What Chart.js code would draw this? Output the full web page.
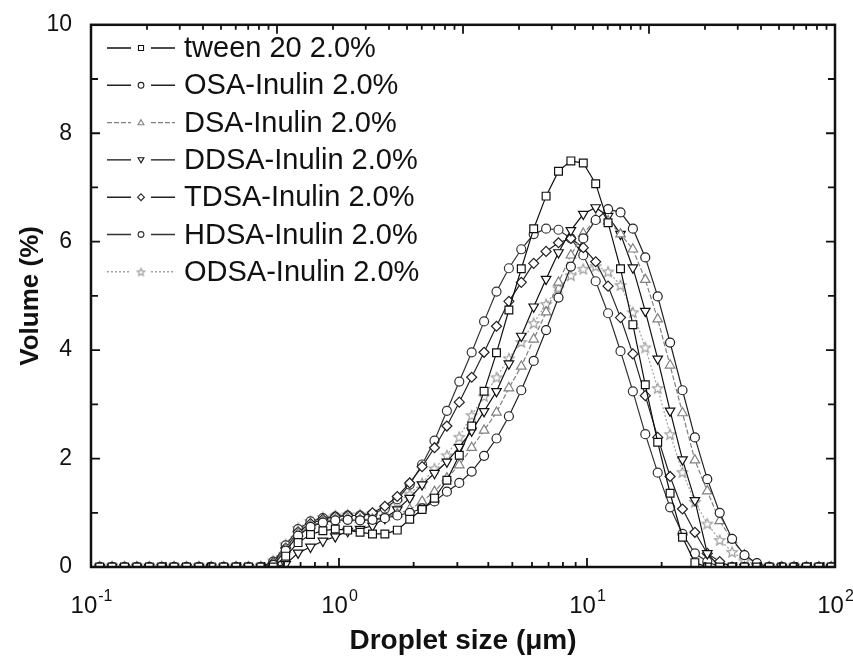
<!DOCTYPE html>
<html lang="en">
<head>
<meta charset="UTF-8">
<title>Droplet size distribution</title>
<script src="https://cdn.jsdelivr.net/npm/chart.js"></script>
<style>
    body { margin: 0; background: #fff; }
    #wrap { width: 853px; height: 660px; }
</style>
</head>
<body>
<div id="wrap"><canvas id="sizeChart" width="853" height="660"></canvas></div>
<script>
// droplet size classes (um)
const sizes = [
    0.1084, 0.1216, 0.1365, 0.1531, 0.1718, 0.1928, 0.2163, 0.2427, 0.2723, 0.3055,
    0.3428, 0.3846, 0.4316, 0.4842, 0.5433, 0.6096, 0.6840, 0.7674, 0.8610, 0.9661,
    1.084, 1.216, 1.365, 1.531, 1.718, 1.928, 2.163, 2.427, 2.723, 3.055,
    3.428, 3.846, 4.316, 4.842, 5.433, 6.096, 6.840, 7.674, 8.610, 9.661,
    10.84, 12.16, 13.65, 15.31, 17.18, 19.28, 21.63, 24.27, 27.23, 30.55,
    34.28, 38.46, 43.15, 48.42, 54.33, 60.95, 68.39, 76.74, 86.10, 96.61
];

// volume (%)
const tween20 = [
    0, 0, 0, 0, 0, 0, 0, 0, 0, 0,
    0, 0, 0, 0, 0, 0.20, 0.45, 0.60, 0.67, 0.70,
    0.68, 0.64, 0.61, 0.61, 0.68, 0.88, 1.06, 1.27, 1.60, 2.06,
    2.60, 3.24, 3.95, 4.74, 5.50, 6.24, 6.84, 7.30, 7.49, 7.45,
    7.07, 6.35, 5.50, 4.47, 3.36, 2.30, 1.36, 0.55, 0.08, 0,
    0, 0, 0, 0, 0, 0, 0, 0, 0, 0
];
const osaInulin = [
    0, 0, 0, 0, 0, 0, 0, 0, 0, 0,
    0, 0, 0, 0, 0.04, 0.30, 0.58, 0.74, 0.82, 0.86,
    0.87, 0.86, 0.87, 0.90, 0.95, 1.00, 1.08, 1.21, 1.39, 1.55,
    1.76, 2.05, 2.37, 2.78, 3.26, 3.80, 4.37, 4.97, 5.54, 6.06,
    6.40, 6.60, 6.54, 6.24, 5.71, 4.99, 4.14, 3.26, 2.39, 1.62,
    1.00, 0.52, 0.22, 0.07, 0, 0, 0, 0, 0, 0
];
const dsaInulin = [
    0, 0, 0, 0, 0, 0, 0, 0, 0, 0,
    0, 0, 0, 0, 0.06, 0.33, 0.62, 0.76, 0.84, 0.88,
    0.90, 0.88, 0.88, 0.92, 0.98, 1.06, 1.21, 1.39, 1.64, 1.88,
    2.20, 2.52, 2.85, 3.30, 3.70, 4.20, 4.70, 5.25, 5.75, 6.15,
    6.41, 6.38, 6.14, 5.86, 5.30, 4.57, 3.72, 2.84, 1.97, 1.40,
    0.85, 0.50, 0.22, 0.05, 0, 0, 0, 0, 0, 0
];
const ddsaInulin = [
    0, 0, 0, 0, 0, 0, 0, 0, 0, 0,
    0, 0, 0, 0, 0, 0.05, 0.26, 0.37, 0.48, 0.56,
    0.66, 0.70, 0.76, 0.90, 1.06, 1.27, 1.52, 1.73, 1.94, 2.21,
    2.51, 2.87, 3.24, 3.75, 4.26, 4.80, 5.31, 5.80, 6.21, 6.51,
    6.63, 6.47, 6.14, 5.52, 4.72, 3.84, 2.88, 1.98, 1.23, 0.25,
    0, 0, 0, 0, 0, 0, 0, 0, 0, 0
];
const tdsaInulin = [
    0, 0, 0, 0, 0, 0, 0, 0, 0, 0,
    0, 0, 0, 0, 0.08, 0.35, 0.65, 0.80, 0.88, 0.93,
    0.95, 0.95, 1.00, 1.12, 1.30, 1.55, 1.85, 2.20, 2.60, 3.04,
    3.50, 3.96, 4.44, 4.90, 5.25, 5.60, 5.82, 5.98, 6.06, 5.89,
    5.63, 5.18, 4.60, 3.93, 3.16, 2.39, 1.67, 1.07, 0.64, 0.25,
    0.10, 0, 0, 0, 0, 0, 0, 0, 0, 0
];
const hdsaInulin = [
    0, 0, 0, 0, 0, 0, 0, 0, 0, 0,
    0, 0, 0, 0, 0.10, 0.40, 0.70, 0.84, 0.90, 0.93,
    0.95, 0.95, 0.98, 1.08, 1.25, 1.52, 1.89, 2.33, 2.88, 3.42,
    3.96, 4.53, 5.08, 5.51, 5.86, 6.14, 6.24, 6.22, 6.06, 5.75,
    5.27, 4.68, 3.98, 3.24, 2.45, 1.74, 1.10, 0.61, 0.25, 0.10,
    0, 0, 0, 0, 0, 0, 0, 0, 0, 0
];
const odsaInulin = [
    0, 0, 0, 0, 0, 0, 0, 0, 0, 0,
    0, 0, 0, 0, 0.12, 0.42, 0.72, 0.85, 0.92, 0.95,
    0.97, 0.97, 1.00, 1.08, 1.20, 1.35, 1.55, 1.82, 2.06, 2.40,
    2.80, 3.15, 3.50, 3.85, 4.15, 4.50, 4.85, 5.15, 5.38, 5.50,
    5.55, 5.45, 5.20, 4.70, 4.05, 3.30, 2.45, 1.75, 1.20, 0.80,
    0.50, 0.28, 0.12, 0.04, 0, 0, 0, 0, 0, 0
];

const seriesLabels = [
    'tween 20 2.0%', 'OSA-Inulin 2.0%', 'DSA-Inulin 2.0%', 'DDSA-Inulin 2.0%',
    'TDSA-Inulin 2.0%', 'HDSA-Inulin 2.0%', 'ODSA-Inulin 2.0%'
];
const xDecades = [0.1, 1, 10, 100];
const xDecadeExps = ['-1', '0', '1', '2'];

const FONT = "'Liberation Sans', Arial, Helvetica, sans-serif";

// hollow five point star used for the ODSA markers
function makeStar(color, outer, inner) {
    const size = Math.ceil(outer * 2 + 3);
    const c = document.createElement('canvas');
    c.width = size; c.height = size;
    const g = c.getContext('2d');
    g.beginPath();
    for (let i = 0; i < 10; i++) {
        const r = i % 2 ? inner : outer;
        const a = -Math.PI / 2 + i * Math.PI / 5;
        const px = size / 2 + r * Math.cos(a);
        const py = size / 2 + 0.6 + r * Math.sin(a);
        if (i) g.lineTo(px, py); else g.moveTo(px, py);
    }
    g.closePath();
    g.fillStyle = '#fff';
    g.fill();
    g.strokeStyle = color;
    g.lineWidth = 1.1;
    g.stroke();
    return c;
}

function series(label, values, opts) {
    return Object.assign({
        label: label,
        data: sizes.map((s, i) => ({ x: s, y: values[i] })),
        borderColor: '#111',
        borderWidth: 1.2,
        pointBorderColor: '#111',
        pointBorderWidth: 1.2,
        pointBackgroundColor: '#fff',
        pointRadius: 4.5,
        tension: 0,
        fill: false
    }, opts);
}

const datasets = [
    series(seriesLabels[0], tween20, { pointStyle: 'rect', pointRadius: 5.5 }),
    series(seriesLabels[1], osaInulin, { pointStyle: 'circle', borderColor: '#222', pointBorderColor: '#222' }),
    series(seriesLabels[2], dsaInulin, { pointStyle: 'triangle', pointRadius: 5.5, borderColor: '#808080',
        pointBorderColor: '#808080', borderDash: [5, 2] }),
    series(seriesLabels[3], ddsaInulin, { pointStyle: 'triangle', pointRotation: 180, pointRadius: 5.5 }),
    series(seriesLabels[4], tdsaInulin, { pointStyle: 'rectRot', pointRadius: 5, borderColor: '#222', pointBorderColor: '#222' }),
    series(seriesLabels[5], hdsaInulin, { pointStyle: 'circle', borderColor: '#333', pointBorderColor: '#333' }),
    series(seriesLabels[6], odsaInulin, { pointStyle: makeStar('#999', 5.5, 2.4), borderColor: '#a0a0a0',
        pointBorderColor: '#a0a0a0', borderDash: [2, 2] })
];

function legendMarker(ctx, ds, x, y) {
    const style = ds.pointStyle;
    ctx.save();
    ctx.setLineDash([]);
    ctx.lineWidth = 1.1;
    ctx.strokeStyle = ds.pointBorderColor;
    ctx.fillStyle = '#fff';
    if (typeof style !== 'string') {
        const img = makeStar('#999', 4, 1.8);
        ctx.drawImage(img, x - img.width / 2, y - img.height / 2);
        ctx.restore();
        return;
    }
    const r = 3.4;
    ctx.beginPath();
    if (style === 'rect') {
        ctx.rect(x - r * 0.75, y - r * 0.75, r * 1.5, r * 1.5);
    } else if (style === 'circle') {
        ctx.arc(x, y, r * 0.85, 0, Math.PI * 2);
    } else if (style === 'rectRot') {
        ctx.moveTo(x, y - r); ctx.lineTo(x + r, y); ctx.lineTo(x, y + r); ctx.lineTo(x - r, y);
        ctx.closePath();
    } else {
        const rot = (ds.pointRotation || 0) * Math.PI / 180;
        for (let i = 0; i < 3; i++) {
            const a = -Math.PI / 2 + rot + i * 2 * Math.PI / 3;
            const px = x + r * Math.cos(a), py = y + r * Math.sin(a) + (rot ? -0.5 : 0.5);
            if (i) ctx.lineTo(px, py); else ctx.moveTo(px, py);
        }
        ctx.closePath();
    }
    ctx.fill();
    ctx.stroke();
    ctx.restore();
}

const framePlugin = {
    id: 'frame',
    afterDatasetsDraw(chart) {
        const { ctx, chartArea: a, scales } = chart;
        ctx.save();
        ctx.strokeStyle = '#111';
        ctx.lineWidth = 1.8;
        ctx.beginPath();
        // bottom ticks
        for (let d = -1; d <= 2; d++) {
            for (let m = 1; m <= 9; m++) {
                if (d === 2 && m > 1) break;
                const px = scales.x.getPixelForValue(m * Math.pow(10, d));
                const len = m === 1 ? 9 : 5;
                ctx.moveTo(px, a.bottom); ctx.lineTo(px, a.bottom - len);
            }
        }
        // top ticks (secondary log axis)
        for (let d = -2; d <= 2; d++) {
            for (let m = 1; m <= 9; m++) {
                if (d === 2 && m > 1) break;
                const px = scales.x2.getPixelForValue(m * Math.pow(10, d));
                const len = m === 1 ? 9 : 5;
                ctx.moveTo(px, a.top); ctx.lineTo(px, a.top + len);
            }
        }
        // left / right ticks
        for (let v = 0; v <= 10; v++) {
            const py = scales.y.getPixelForValue(v);
            const len = v % 2 === 0 ? 9 : 7;
            ctx.moveTo(a.left, py); ctx.lineTo(a.left + len, py);
            ctx.moveTo(a.right, py); ctx.lineTo(a.right - len, py);
        }
        ctx.stroke();

        ctx.lineWidth = 2.5;
        ctx.strokeRect(a.left, a.top, a.right - a.left, a.bottom - a.top);

        // x tick labels 10^n
        ctx.fillStyle = '#111';
        ctx.textBaseline = 'alphabetic';
        xDecades.forEach((v, i) => {
            const px = scales.x.getPixelForValue(v);
            ctx.font = '24px ' + FONT;
            const w1 = ctx.measureText('10').width;
            ctx.font = '16px ' + FONT;
            const w2 = ctx.measureText(xDecadeExps[i]).width;
            const x0 = px - (w1 + w2) / 2;
            ctx.font = '24px ' + FONT;
            ctx.textAlign = 'left';
            ctx.fillText('10', x0, a.bottom + 46);
            ctx.font = '16px ' + FONT;
            ctx.fillText(xDecadeExps[i], x0 + w1 + 1, a.bottom + 34);
        });

        // axis titles
        ctx.font = 'bold 28px ' + FONT;
        ctx.textAlign = 'center';
        ctx.textBaseline = 'middle';
        ctx.fillText('Droplet size (\u03bcm)', (a.left + a.right) / 2, 641);
        ctx.save();
        ctx.translate(31, (a.top + a.bottom) / 2);
        ctx.rotate(-Math.PI / 2);
        ctx.font = 'bold 26px ' + FONT;
        ctx.fillText('Volume (%)', 0, 0);
        ctx.restore();

        // legend
        ctx.font = '29px ' + FONT;
        ctx.textAlign = 'left';
        ctx.textBaseline = 'middle';
        chart.data.datasets.forEach((ds, i) => {
            const y = 48 + i * 37.3;
            ctx.save();
            ctx.strokeStyle = ds.borderColor;
            ctx.lineWidth = 1.4;
            ctx.setLineDash(ds.borderDash || []);
            ctx.beginPath();
            ctx.moveTo(107, y); ctx.lineTo(131, y);
            ctx.moveTo(151, y); ctx.lineTo(175, y);
            ctx.stroke();
            ctx.restore();
            legendMarker(ctx, ds, 141, y);
            ctx.fillStyle = '#111';
            ctx.fillText(ds.label, 184, y + 1);
        });
        ctx.restore();
    }
};

const config = {
    type: 'line',
    data: { datasets: datasets },
    options: {
        responsive: false,
        animation: false,
        layout: { padding: { top: 15, right: 18, left: 0, bottom: 0 } },
        plugins: {
            legend: { display: false },
            tooltip: { enabled: false }
        },
        scales: {
            x: {
                type: 'logarithmic',
                position: 'bottom',
                min: 0.1,
                max: 100,
                grid: { display: false },
                border: { display: false },
                ticks: { display: false },
                afterFit(scale) { scale.height = 93; }
            },
            x2: {
                type: 'logarithmic',
                position: 'top',
                min: 0.01,
                max: 100,
                grid: { display: false },
                border: { display: false },
                ticks: { display: false },
                afterFit(scale) { scale.height = 0; }
            },
            y: {
                min: 0,
                max: 10,
                grid: { display: false },
                border: { display: false },
                ticks: {
                    stepSize: 2,
                    color: '#111',
                    padding: 11,
                    font: { size: 23, family: FONT }
                },
                afterFit(scale) { scale.width = 91; }
            }
        }
    },
    plugins: [framePlugin]
};

const sizeChart = new Chart(document.getElementById('sizeChart'), config);
</script>
</body>
</html>
